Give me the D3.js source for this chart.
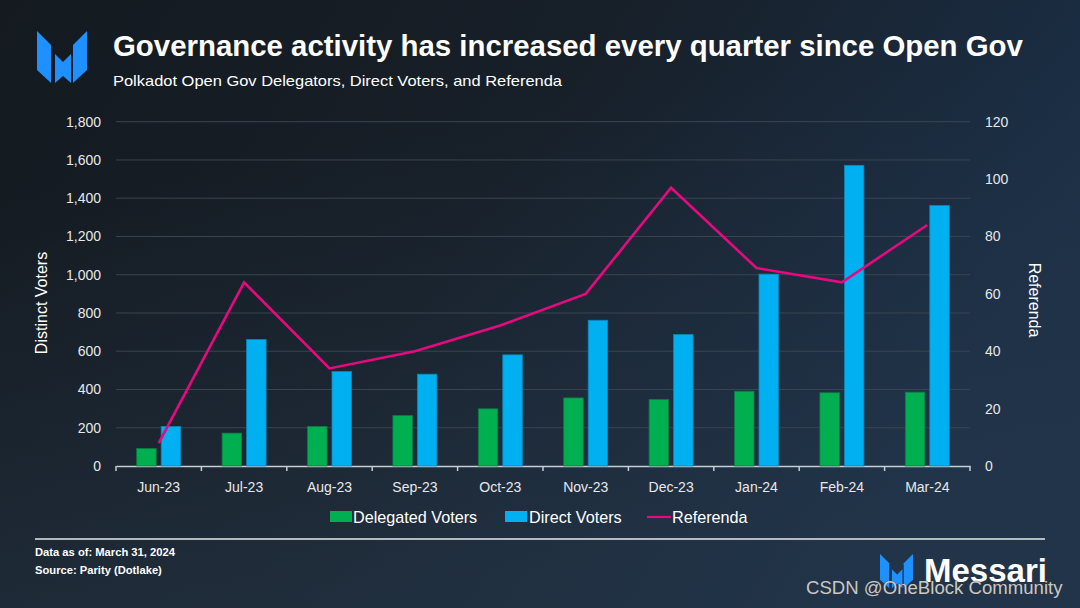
<!DOCTYPE html>
<html><head><meta charset="utf-8">
<script src="https://cdn.jsdelivr.net/npm/d3@7"></script>
<style>html,body{margin:0;padding:0;background:#161d25;}svg{display:block;}</style>
</head><body>
<svg id="c" width="1080" height="608"></svg>
<script>
const categories = ["Jun-23","Jul-23","Aug-23","Sep-23","Oct-23","Nov-23","Dec-23","Jan-24","Feb-24","Mar-24"];
const delegatedVoters = [92,172,207,264,299,356,348,391,383,386];
const directVoters = [207,661,494,480,581,762,687,1003,1572,1362];
const referenda = [8,64,34,40,49,60,97,69,64,84];
const leftTicks = [0,200,400,600,800,1000,1200,1400,1600,1800];
const rightTicks = [0,20,40,60,80,100,120];

const svg = d3.select("#c");
const W = 1080, H = 608;
const defs = svg.append("defs");
const g1 = defs.append("linearGradient").attr("id","bg").attr("x1","0").attr("y1","0").attr("x2","1").attr("y2","0.35");
g1.append("stop").attr("offset","0").attr("stop-color","#141a20");
g1.append("stop").attr("offset","0.5").attr("stop-color","#171f28");
g1.append("stop").attr("offset","1").attr("stop-color","#1b2f47");
const g2 = defs.append("linearGradient").attr("id","bg2").attr("x1","0").attr("y1","0").attr("x2","0.3").attr("y2","1");
g2.append("stop").attr("offset","0.3").attr("stop-color","#27384a").attr("stop-opacity",0);
g2.append("stop").attr("offset","1").attr("stop-color","#27384a").attr("stop-opacity",0.55);
svg.append("rect").attr("width",W).attr("height",H).attr("fill","url(#bg)");
svg.append("rect").attr("width",W).attr("height",H).attr("fill","url(#bg2)");

const font = "'Liberation Sans', Arial, sans-serif";
const logoColor = "#1e90ff";
function logo(x0,y0,s){
  const pieces = [
    [[0,0],[14,14],[14,52],[0,39]],
    [[18,23],[26,31],[34,23],[34,52],[26,45],[18,52]],
    [[50,0],[50,39],[36,52],[36,14]]
  ];
  pieces.forEach(p=>{
    svg.append("polygon").attr("points",p.map(q=>[x0+q[0]*s,y0+q[1]*s].join(",")).join(" ")).attr("fill",logoColor);
  });
}
logo(37,31,1.0);

svg.append("text").attr("x",113).attr("y",56).attr("fill","#ffffff").attr("font-family",font)
  .attr("font-weight","bold").attr("font-size",29.4).text("Governance activity has increased every quarter since Open Gov");
svg.append("text").attr("x",113).attr("y",86).attr("fill","#ffffff").attr("font-family",font)
  .attr("font-size",15).attr("textLength",449).attr("lengthAdjust","spacingAndGlyphs")
  .text("Polkadot Open Gov Delegators, Direct Voters, and Referenda");

const m = {l:116, r:970, t:121.7, b:466};
const x = d3.scaleBand().domain(categories).range([m.l,m.r]).paddingInner(0).paddingOuter(0);
const yL = d3.scaleLinear().domain([0,1800]).range([m.b,m.t]);
const yR = d3.scaleLinear().domain([0,120]).range([m.b,m.t]);

// grid
svg.append("g").selectAll("line").data(leftTicks.slice(1)).join("line")
  .attr("x1",m.l).attr("x2",m.r).attr("y1",d=>yL(d)).attr("y2",d=>yL(d))
  .attr("stroke","#3a4550").attr("stroke-width",1);

// left axis
const la = svg.append("g").attr("transform",`translate(${m.l},0)`)
  .call(d3.axisLeft(yL).tickValues(leftTicks).tickFormat(d3.format(",")).tickSize(0).tickPadding(15));
la.select(".domain").remove();
la.selectAll("text").attr("fill","#e8e8e8").attr("font-family",font).attr("font-size",14);

const ra = svg.append("g").attr("transform",`translate(${m.r},0)`)
  .call(d3.axisRight(yR).tickValues(rightTicks).tickSize(0).tickPadding(15));
ra.select(".domain").remove();
ra.selectAll("text").attr("fill","#e8e8e8").attr("font-family",font).attr("font-size",14);

// x axis
const xa = svg.append("g").attr("transform",`translate(0,${m.b})`)
  .call(d3.axisBottom(x).tickSize(0).tickPadding(16));
xa.select(".domain").attr("stroke","#c8cdd2").attr("stroke-width",1.5);
xa.selectAll("text").attr("fill","#e8e8e8").attr("font-family",font).attr("font-size",14);
svg.append("g").selectAll("line").data(d3.range(categories.length+1)).join("line")
  .attr("x1",i=>m.l+i*x.step()).attr("x2",i=>m.l+i*x.step())
  .attr("y1",m.b).attr("y2",m.b+5).attr("stroke","#c8cdd2").attr("stroke-width",1.5);

svg.append("text").attr("transform","translate(47,303) rotate(-90)").attr("text-anchor","middle")
  .attr("fill","#ffffff").attr("font-family",font).attr("font-size",16).text("Distinct Voters");
svg.append("text").attr("transform","translate(1029,300) rotate(90)").attr("text-anchor","middle")
  .attr("fill","#ffffff").attr("font-family",font).attr("font-size",16).text("Referenda");

// bars
const bw = 19.5, gap = 5;
const cx = d => x(d)+x.bandwidth()/2;
svg.append("g").selectAll("rect").data(categories).join("rect")
  .attr("x",(d)=>cx(d)-gap/2-bw).attr("width",bw)
  .attr("y",(d,i)=>yL(delegatedVoters[i])).attr("height",(d,i)=>m.b-yL(delegatedVoters[i]))
  .attr("fill","#00b050").attr("stroke","#0b7a45").attr("stroke-width",0.8);
svg.append("g").selectAll("rect").data(categories).join("rect")
  .attr("x",(d)=>cx(d)+gap/2).attr("width",bw)
  .attr("y",(d,i)=>yL(directVoters[i])).attr("height",(d,i)=>m.b-yL(directVoters[i]))
  .attr("fill","#00b0f0").attr("stroke","#0a86b8").attr("stroke-width",0.8);

// line
const line = d3.line().x((d,i)=>cx(categories[i])).y(d=>yR(d));
svg.append("path").datum(referenda).attr("d",line).attr("fill","none")
  .attr("stroke","#e6097f").attr("stroke-width",2.6).attr("stroke-linejoin","miter");

// legend
const ly = 517;
const lf = 16.2;
svg.append("rect").attr("x",330).attr("y",ly-6).attr("width",22).attr("height",11).attr("fill","#00b050");
svg.append("text").attr("x",353).attr("y",ly+6).attr("fill","#ffffff").attr("font-family",font).attr("font-size",lf).text("Delegated Voters");
svg.append("rect").attr("x",505).attr("y",ly-6).attr("width",22).attr("height",11).attr("fill","#00b0f0");
svg.append("text").attr("x",529).attr("y",ly+6).attr("fill","#ffffff").attr("font-family",font).attr("font-size",lf).text("Direct Voters");
svg.append("line").attr("x1",647).attr("x2",671).attr("y1",ly).attr("y2",ly).attr("stroke","#e6097f").attr("stroke-width",2.2);
svg.append("text").attr("x",672).attr("y",ly+6).attr("fill","#ffffff").attr("font-family",font).attr("font-size",lf).text("Referenda");

// footer
svg.append("line").attr("x1",35).attr("x2",1045).attr("y1",539).attr("y2",539).attr("stroke","#e8e8e8").attr("stroke-width",1.5);
svg.append("text").attr("x",35).attr("y",556).attr("fill","#ffffff").attr("font-family",font).attr("font-weight","bold").attr("font-size",11.2).text("Data as of: March 31, 2024");
svg.append("text").attr("x",35).attr("y",574).attr("fill","#ffffff").attr("font-family",font).attr("font-weight","bold").attr("font-size",11.2).text("Source: Parity (Dotlake)");

logo(880,554,0.66);
svg.append("text").attr("x",924).attr("y",582).attr("fill","#ffffff").attr("font-family",font).attr("font-size",33).attr("font-weight","bold").text("Messari");
svg.append("text").attr("x",806).attr("y",594).attr("fill","#c8c8c8").attr("font-family",font).attr("font-size",18.6)
  .attr("style","paint-order:stroke").attr("stroke","#333").attr("stroke-width",0.5).text("CSDN @OneBlock Community");
</script>
</body></html>
